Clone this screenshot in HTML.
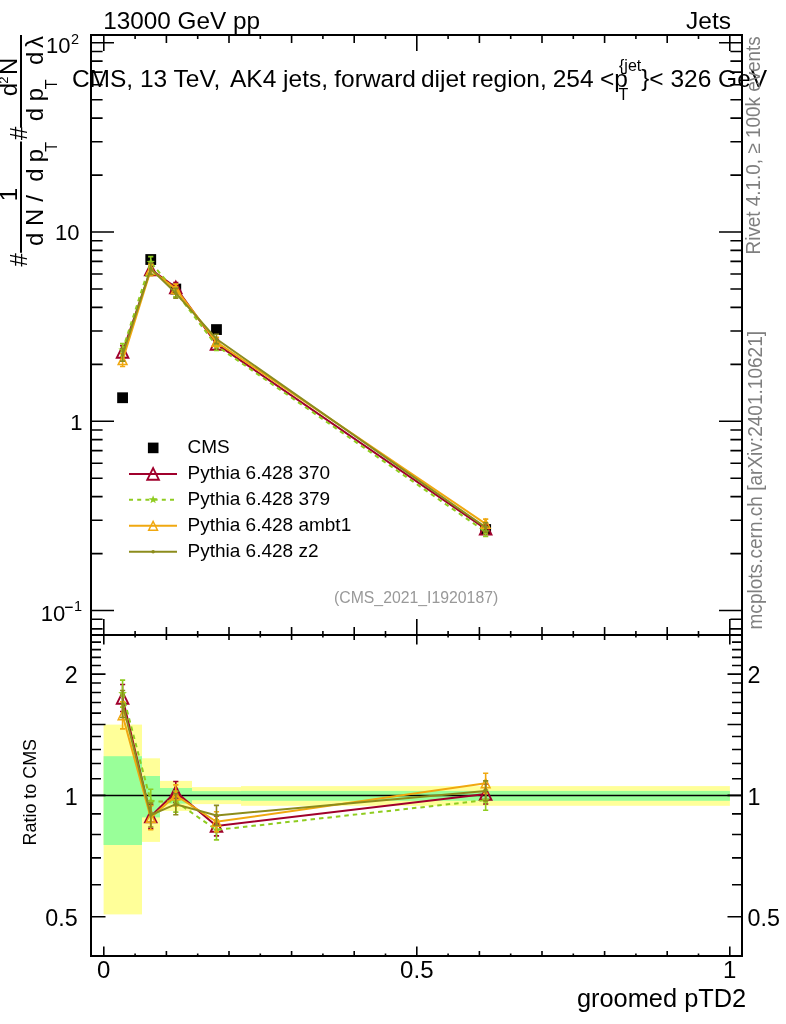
<!DOCTYPE html><html><head><meta charset="utf-8"><style>html,body{margin:0;padding:0;background:#fff;}svg{display:block;will-change:transform;}text{font-family:"Liberation Sans",sans-serif;}</style></head><body><svg width="786" height="1024" viewBox="0 0 786 1024"><rect x="103.6" y="724.6" width="38.4" height="189.8" fill="#ffff99"/>
<rect x="142" y="758.3" width="18" height="83.6" fill="#ffff99"/>
<rect x="160" y="780.9" width="32" height="30" fill="#ffff99"/>
<rect x="192" y="787.1" width="49" height="17" fill="#ffff99"/>
<rect x="241" y="786.1" width="488.9" height="19.7" fill="#ffff99"/>
<rect x="103.6" y="756.2" width="38.4" height="88.8" fill="#99ff99"/>
<rect x="142" y="776" width="18" height="41.4" fill="#99ff99"/>
<rect x="160" y="788" width="32" height="15.6" fill="#99ff99"/>
<rect x="192" y="791.1" width="49" height="9.1" fill="#99ff99"/>
<rect x="241" y="790.9" width="488.9" height="9.9" fill="#99ff99"/>
<path d="M91 628.89L102.6 628.89 M742 628.89L730.4 628.89 M91 619.21L102.6 619.21 M742 619.21L730.4 619.21 M91 610.55L114 610.55 M742 610.55L719 610.55 M91 553.58L102.6 553.58 M742 553.58L730.4 553.58 M91 520.25L102.6 520.25 M742 520.25L730.4 520.25 M91 496.61L102.6 496.61 M742 496.61L730.4 496.61 M91 478.27L102.6 478.27 M742 478.27L730.4 478.27 M91 463.28L102.6 463.28 M742 463.28L730.4 463.28 M91 450.62L102.6 450.62 M742 450.62L730.4 450.62 M91 439.64L102.6 439.64 M742 439.64L730.4 439.64 M91 429.96L102.6 429.96 M742 429.96L730.4 429.96 M91 421.3L114 421.3 M742 421.3L719 421.3 M91 364.33L102.6 364.33 M742 364.33L730.4 364.33 M91 331L102.6 331 M742 331L730.4 331 M91 307.36L102.6 307.36 M742 307.36L730.4 307.36 M91 289.02L102.6 289.02 M742 289.02L730.4 289.02 M91 274.03L102.6 274.03 M742 274.03L730.4 274.03 M91 261.37L102.6 261.37 M742 261.37L730.4 261.37 M91 250.39L102.6 250.39 M742 250.39L730.4 250.39 M91 240.71L102.6 240.71 M742 240.71L730.4 240.71 M91 232.05L114 232.05 M742 232.05L719 232.05 M91 175.08L102.6 175.08 M742 175.08L730.4 175.08 M91 141.75L102.6 141.75 M742 141.75L730.4 141.75 M91 118.11L102.6 118.11 M742 118.11L730.4 118.11 M91 99.77L102.6 99.77 M742 99.77L730.4 99.77 M91 84.78L102.6 84.78 M742 84.78L730.4 84.78 M91 72.12L102.6 72.12 M742 72.12L730.4 72.12 M91 61.14L102.6 61.14 M742 61.14L730.4 61.14 M91 51.46L102.6 51.46 M742 51.46L730.4 51.46 M91 42.8L114 42.8 M742 42.8L719 42.8 M91 916.72L105.5 916.72 M742 916.72L727.5 916.72 M91 884.81L101 884.81 M742 884.81L732 884.81 M91 857.83L101 857.83 M742 857.83L732 857.83 M91 834.45L101 834.45 M742 834.45L732 834.45 M91 813.84L101 813.84 M742 813.84L732 813.84 M91 795.4L105.5 795.4 M742 795.4L727.5 795.4 M91 778.72L101 778.72 M742 778.72L732 778.72 M91 763.49L101 763.49 M742 763.49L732 763.49 M91 749.48L101 749.48 M742 749.48L732 749.48 M91 736.51L101 736.51 M742 736.51L732 736.51 M91 724.44L105.5 724.44 M742 724.44L727.5 724.44 M91 713.14L101 713.14 M742 713.14L732 713.14 M91 702.53L101 702.53 M742 702.53L732 702.53 M91 692.53L101 692.53 M742 692.53L732 692.53 M91 683.06L101 683.06 M742 683.06L732 683.06 M91 674.08L105.5 674.08 M742 674.08L727.5 674.08 M91 665.55L101 665.55 M742 665.55L732 665.55 M91 657.4L101 657.4 M742 657.4L732 657.4 M91 649.62L101 649.62 M742 649.62L732 649.62 M91 642.17L101 642.17 M742 642.17L732 642.17 M103.8 35L103.8 51 M103.8 635L103.8 619 M103.8 635L103.8 644.5 M103.8 956L103.8 946.5 M135.1 35L135.1 39 M135.1 635L135.1 631 M135.1 635L135.1 637.5 M135.1 956L135.1 953.5 M166.4 35L166.4 43 M166.4 635L166.4 627 M166.4 635L166.4 640 M166.4 956L166.4 951 M197.7 35L197.7 39 M197.7 635L197.7 631 M197.7 635L197.7 637.5 M197.7 956L197.7 953.5 M229 35L229 43 M229 635L229 627 M229 635L229 640 M229 956L229 951 M260.3 35L260.3 39 M260.3 635L260.3 631 M260.3 635L260.3 637.5 M260.3 956L260.3 953.5 M291.6 35L291.6 43 M291.6 635L291.6 627 M291.6 635L291.6 640 M291.6 956L291.6 951 M322.9 35L322.9 39 M322.9 635L322.9 631 M322.9 635L322.9 637.5 M322.9 956L322.9 953.5 M354.2 35L354.2 43 M354.2 635L354.2 627 M354.2 635L354.2 640 M354.2 956L354.2 951 M385.5 35L385.5 39 M385.5 635L385.5 631 M385.5 635L385.5 637.5 M385.5 956L385.5 953.5 M416.8 35L416.8 51 M416.8 635L416.8 619 M416.8 635L416.8 644.5 M416.8 956L416.8 946.5 M448.1 35L448.1 39 M448.1 635L448.1 631 M448.1 635L448.1 637.5 M448.1 956L448.1 953.5 M479.4 35L479.4 43 M479.4 635L479.4 627 M479.4 635L479.4 640 M479.4 956L479.4 951 M510.7 35L510.7 39 M510.7 635L510.7 631 M510.7 635L510.7 637.5 M510.7 956L510.7 953.5 M542 35L542 43 M542 635L542 627 M542 635L542 640 M542 956L542 951 M573.3 35L573.3 39 M573.3 635L573.3 631 M573.3 635L573.3 637.5 M573.3 956L573.3 953.5 M604.6 35L604.6 43 M604.6 635L604.6 627 M604.6 635L604.6 640 M604.6 956L604.6 951 M635.9 35L635.9 39 M635.9 635L635.9 631 M635.9 635L635.9 637.5 M635.9 956L635.9 953.5 M667.2 35L667.2 43 M667.2 635L667.2 627 M667.2 635L667.2 640 M667.2 956L667.2 951 M698.5 35L698.5 39 M698.5 635L698.5 631 M698.5 635L698.5 637.5 M698.5 956L698.5 953.5 M729.8 35L729.8 51 M729.8 635L729.8 619 M729.8 635L729.8 644.5 M729.8 956L729.8 946.5" stroke="#000" stroke-width="1.6" fill="none"/>
<path d="M91 795.4H742" stroke="#000" stroke-width="1.5"/>
<defs><clipPath id="cm"><rect x="92" y="36" width="649" height="598"/></clipPath><clipPath id="cr"><rect x="92" y="636" width="649" height="319"/></clipPath></defs>
<rect x="117.18" y="392.34" width="10.8" height="10.8" fill="#000"/>
<rect x="145.35" y="254.11" width="10.8" height="10.8" fill="#000"/>
<rect x="170.39" y="283.62" width="10.8" height="10.8" fill="#000"/>
<rect x="211.08" y="324.17" width="10.8" height="10.8" fill="#000"/>
<rect x="480.26" y="524.13" width="10.8" height="10.8" fill="#000"/>
<path d="M122.58 351.98L150.75 269.46L175.79 287.39L216.48 343.9L485.66 528.87" fill="none" stroke="#a0002c" stroke-width="2" clip-path="url(#cm)"/>
<path d="M122.58 345.64V358.32M119.98 345.64H125.18M119.98 358.32H125.18M150.75 263.82V275.09M148.15 263.82H153.35M148.15 275.09H153.35M175.79 282.46V292.32M173.19 282.46H178.39M173.19 292.32H178.39M216.48 339.2V348.59M213.88 339.2H219.08M213.88 348.59H219.08M485.66 524.17V533.57M483.06 524.17H488.26M483.06 533.57H488.26" fill="none" stroke="#a0002c" stroke-width="1.6" clip-path="url(#cm)"/>
<path d="M116.78 357.78L128.38 357.78L122.58 346.18Z" fill="none" stroke="#a0002c" stroke-width="1.9" stroke-linejoin="miter"/>
<path d="M144.95 275.26L156.55 275.26L150.75 263.66Z" fill="none" stroke="#a0002c" stroke-width="1.9" stroke-linejoin="miter"/>
<path d="M169.99 293.19L181.59 293.19L175.79 281.59Z" fill="none" stroke="#a0002c" stroke-width="1.9" stroke-linejoin="miter"/>
<path d="M210.68 349.7L222.28 349.7L216.48 338.1Z" fill="none" stroke="#a0002c" stroke-width="1.9" stroke-linejoin="miter"/>
<path d="M479.86 534.67L491.46 534.67L485.66 523.07Z" fill="none" stroke="#a0002c" stroke-width="1.9" stroke-linejoin="miter"/>
<path d="M122.58 349.93L150.75 262.27L175.79 291.95L216.48 345.78L485.66 531.78" fill="none" stroke="#8fcc20" stroke-width="2" stroke-dasharray="4.5 4" clip-path="url(#cm)"/>
<path d="M122.58 343.59V356.27M119.98 343.59H125.18M119.98 356.27H125.18M150.75 256.63V267.9M148.15 256.63H153.35M148.15 267.9H153.35M175.79 287.02V296.88M173.19 287.02H178.39M173.19 296.88H178.39M216.48 341.08V350.47M213.88 341.08H219.08M213.88 350.47H219.08M485.66 527.08V536.47M483.06 527.08H488.26M483.06 536.47H488.26" fill="none" stroke="#8fcc20" stroke-width="1.6" clip-path="url(#cm)"/>
<path d="M122.58 345.43L123.69 348.4L126.86 348.54L124.38 350.52L125.23 353.57L122.58 351.82L119.93 353.57L120.78 350.52L118.3 348.54L121.47 348.4Z" fill="#8fcc20"/>
<path d="M150.75 257.77L151.86 260.74L155.03 260.88L152.55 262.85L153.4 265.91L150.75 264.16L148.1 265.91L148.95 262.85L146.47 260.88L149.64 260.74Z" fill="#8fcc20"/>
<path d="M175.79 287.45L176.9 290.42L180.07 290.56L177.59 292.53L178.44 295.59L175.79 293.84L173.14 295.59L173.99 292.53L171.51 290.56L174.68 290.42Z" fill="#8fcc20"/>
<path d="M216.48 341.28L217.59 344.25L220.76 344.39L218.28 346.36L219.13 349.42L216.48 347.67L213.83 349.42L214.68 346.36L212.2 344.39L215.37 344.25Z" fill="#8fcc20"/>
<path d="M485.66 527.28L486.77 530.25L489.94 530.38L487.46 532.36L488.31 535.42L485.66 533.67L483.01 535.42L483.86 532.36L481.38 530.38L484.55 530.25Z" fill="#8fcc20"/>
<path d="M122.58 360.14L150.75 270.01L175.79 289.02L216.48 341.96L485.66 523.81" fill="none" stroke="#f0a810" stroke-width="2" clip-path="url(#cm)"/>
<path d="M122.58 353.8V366.48M119.98 353.8H125.18M119.98 366.48H125.18M150.75 264.38V275.65M148.15 264.38H153.35M148.15 275.65H153.35M175.79 284.09V293.95M173.19 284.09H178.39M173.19 293.95H178.39M216.48 337.27V346.66M213.88 337.27H219.08M213.88 346.66H219.08M485.66 519.12V528.51M483.06 519.12H488.26M483.06 528.51H488.26" fill="none" stroke="#f0a810" stroke-width="1.6" clip-path="url(#cm)"/>
<path d="M118.18 364.54L126.98 364.54L122.58 355.74Z" fill="none" stroke="#f0a810" stroke-width="1.5" stroke-linejoin="miter"/>
<path d="M146.35 274.41L155.15 274.41L150.75 265.61Z" fill="none" stroke="#f0a810" stroke-width="1.5" stroke-linejoin="miter"/>
<path d="M171.39 293.42L180.19 293.42L175.79 284.62Z" fill="none" stroke="#f0a810" stroke-width="1.5" stroke-linejoin="miter"/>
<path d="M212.08 346.36L220.88 346.36L216.48 337.56Z" fill="none" stroke="#f0a810" stroke-width="1.5" stroke-linejoin="miter"/>
<path d="M481.26 528.21L490.06 528.21L485.66 519.41Z" fill="none" stroke="#f0a810" stroke-width="1.5" stroke-linejoin="miter"/>
<path d="M122.58 354.8L150.75 268.72L175.79 293.15L216.48 338.96L485.66 527.42" fill="none" stroke="#8c8c1c" stroke-width="2" clip-path="url(#cm)"/>
<path d="M122.58 348.47V361.14M119.98 348.47H125.18M119.98 361.14H125.18M150.75 263.08V274.35M148.15 263.08H153.35M148.15 274.35H153.35M175.79 288.22V298.08M173.19 288.22H178.39M173.19 298.08H178.39M216.48 334.26V343.65M213.88 334.26H219.08M213.88 343.65H219.08M485.66 522.72V532.11M483.06 522.72H488.26M483.06 532.11H488.26" fill="none" stroke="#8c8c1c" stroke-width="1.6" clip-path="url(#cm)"/>
<circle cx="122.58" cy="354.8" r="1.8" fill="#8c8c1c"/>
<circle cx="150.75" cy="268.72" r="1.8" fill="#8c8c1c"/>
<circle cx="175.79" cy="293.15" r="1.8" fill="#8c8c1c"/>
<circle cx="216.48" cy="338.96" r="1.8" fill="#8c8c1c"/>
<circle cx="485.66" cy="527.42" r="1.8" fill="#8c8c1c"/>
<path d="M122.58 697.96L150.75 816.58L175.79 791.93L216.48 825.92L485.66 794.01" fill="none" stroke="#a0002c" stroke-width="2" clip-path="url(#cr)"/>
<path d="M122.58 684.46V711.46M119.98 684.46H125.18M119.98 711.46H125.18M150.75 804.58V828.58M148.15 804.58H153.35M148.15 828.58H153.35M175.79 781.43V802.43M173.19 781.43H178.39M173.19 802.43H178.39M216.48 815.92V835.92M213.88 815.92H219.08M213.88 835.92H219.08M485.66 784.01V804.01M483.06 784.01H488.26M483.06 804.01H488.26" fill="none" stroke="#a0002c" stroke-width="1.6" clip-path="url(#cr)"/>
<path d="M116.78 703.76L128.38 703.76L122.58 692.16Z" fill="none" stroke="#a0002c" stroke-width="1.9" stroke-linejoin="miter"/>
<path d="M144.95 822.38L156.55 822.38L150.75 810.78Z" fill="none" stroke="#a0002c" stroke-width="1.9" stroke-linejoin="miter"/>
<path d="M169.99 797.73L181.59 797.73L175.79 786.13Z" fill="none" stroke="#a0002c" stroke-width="1.9" stroke-linejoin="miter"/>
<path d="M210.68 831.72L222.28 831.72L216.48 820.12Z" fill="none" stroke="#a0002c" stroke-width="1.9" stroke-linejoin="miter"/>
<path d="M479.86 799.81L491.46 799.81L485.66 788.21Z" fill="none" stroke="#a0002c" stroke-width="1.9" stroke-linejoin="miter"/>
<path d="M122.58 693.6L150.75 801.27L175.79 801.64L216.48 829.92L485.66 800.19" fill="none" stroke="#8fcc20" stroke-width="2" stroke-dasharray="4.5 4" clip-path="url(#cr)"/>
<path d="M122.58 680.1V707.1M119.98 680.1H125.18M119.98 707.1H125.18M150.75 789.27V813.27M148.15 789.27H153.35M148.15 813.27H153.35M175.79 791.14V812.14M173.19 791.14H178.39M173.19 812.14H178.39M216.48 819.92V839.92M213.88 819.92H219.08M213.88 839.92H219.08M485.66 790.19V810.19M483.06 790.19H488.26M483.06 810.19H488.26" fill="none" stroke="#8fcc20" stroke-width="1.6" clip-path="url(#cr)"/>
<path d="M122.58 689.1L123.69 692.07L126.86 692.21L124.38 694.18L125.23 697.24L122.58 695.49L119.93 697.24L120.78 694.18L118.3 692.21L121.47 692.07Z" fill="#8fcc20"/>
<path d="M150.75 796.77L151.86 799.74L155.03 799.88L152.55 801.86L153.4 804.91L150.75 803.16L148.1 804.91L148.95 801.86L146.47 799.88L149.64 799.74Z" fill="#8fcc20"/>
<path d="M175.79 797.14L176.9 800.11L180.07 800.24L177.59 802.22L178.44 805.28L175.79 803.53L173.14 805.28L173.99 802.22L171.51 800.24L174.68 800.11Z" fill="#8fcc20"/>
<path d="M216.48 825.42L217.59 828.39L220.76 828.53L218.28 830.5L219.13 833.56L216.48 831.81L213.83 833.56L214.68 830.5L212.2 828.53L215.37 828.39Z" fill="#8fcc20"/>
<path d="M485.66 795.69L486.77 798.66L489.94 798.8L487.46 800.77L488.31 803.83L485.66 802.08L483.01 803.83L483.86 800.77L481.38 798.8L484.55 798.66Z" fill="#8fcc20"/>
<path d="M122.58 715.34L150.75 817.77L175.79 795.4L216.48 821.8L485.66 783.23" fill="none" stroke="#f0a810" stroke-width="2" clip-path="url(#cr)"/>
<path d="M122.58 701.84V728.84M119.98 701.84H125.18M119.98 728.84H125.18M150.75 805.77V829.77M148.15 805.77H153.35M148.15 829.77H153.35M175.79 784.9V805.9M173.19 784.9H178.39M173.19 805.9H178.39M216.48 811.8V831.8M213.88 811.8H219.08M213.88 831.8H219.08M485.66 773.23V793.23M483.06 773.23H488.26M483.06 793.23H488.26" fill="none" stroke="#f0a810" stroke-width="1.6" clip-path="url(#cr)"/>
<path d="M118.18 719.74L126.98 719.74L122.58 710.94Z" fill="none" stroke="#f0a810" stroke-width="1.5" stroke-linejoin="miter"/>
<path d="M146.35 822.17L155.15 822.17L150.75 813.37Z" fill="none" stroke="#f0a810" stroke-width="1.5" stroke-linejoin="miter"/>
<path d="M171.39 799.8L180.19 799.8L175.79 791Z" fill="none" stroke="#f0a810" stroke-width="1.5" stroke-linejoin="miter"/>
<path d="M212.08 826.2L220.88 826.2L216.48 817.4Z" fill="none" stroke="#f0a810" stroke-width="1.5" stroke-linejoin="miter"/>
<path d="M481.26 787.63L490.06 787.63L485.66 778.83Z" fill="none" stroke="#f0a810" stroke-width="1.5" stroke-linejoin="miter"/>
<path d="M122.58 703.98L150.75 815.01L175.79 804.19L216.48 815.4L485.66 790.91" fill="none" stroke="#8c8c1c" stroke-width="2" clip-path="url(#cr)"/>
<path d="M122.58 690.48V717.48M119.98 690.48H125.18M119.98 717.48H125.18M150.75 803.01V827.01M148.15 803.01H153.35M148.15 827.01H153.35M175.79 793.69V814.69M173.19 793.69H178.39M173.19 814.69H178.39M216.48 805.4V825.4M213.88 805.4H219.08M213.88 825.4H219.08M485.66 780.91V800.91M483.06 780.91H488.26M483.06 800.91H488.26" fill="none" stroke="#8c8c1c" stroke-width="1.6" clip-path="url(#cr)"/>
<circle cx="122.58" cy="703.98" r="1.8" fill="#8c8c1c"/>
<circle cx="150.75" cy="815.01" r="1.8" fill="#8c8c1c"/>
<circle cx="175.79" cy="804.19" r="1.8" fill="#8c8c1c"/>
<circle cx="216.48" cy="815.4" r="1.8" fill="#8c8c1c"/>
<circle cx="485.66" cy="790.91" r="1.8" fill="#8c8c1c"/>
<path d="M91 35H742V956H91Z M91 635H742" fill="none" stroke="#000" stroke-width="2"/>
<rect x="147.9" y="442.6" width="10.6" height="10.6" fill="#000"/>
<path d="M129 473.9H177" stroke="#a0002c" stroke-width="2"/>
<path d="M147.3 479.7L158.9 479.7L153.1 468.1Z" fill="none" stroke="#a0002c" stroke-width="1.9" stroke-linejoin="miter"/>
<path d="M129 499.7H177" stroke="#8fcc20" stroke-width="2" stroke-dasharray="4 4.2"/>
<path d="M153.1 495.2L154.21 498.17L157.38 498.31L154.9 500.28L155.75 503.34L153.1 501.59L150.45 503.34L151.3 500.28L148.82 498.31L151.99 498.17Z" fill="#8fcc20"/>
<path d="M129 525.8H177" stroke="#f0a810" stroke-width="2"/>
<path d="M148.7 530.2L157.5 530.2L153.1 521.4Z" fill="none" stroke="#f0a810" stroke-width="1.5" stroke-linejoin="miter"/>
<path d="M129 551.8H177" stroke="#8c8c1c" stroke-width="2"/>
<circle cx="153.1" cy="551.8" r="1.8" fill="#8c8c1c"/>
<text x="187.5" y="453.4" font-size="19" font-family="Liberation Sans, sans-serif">CMS</text>
<text x="187.5" y="479.4" font-size="19" font-family="Liberation Sans, sans-serif">Pythia 6.428 370</text>
<text x="187.5" y="505.2" font-size="19" font-family="Liberation Sans, sans-serif">Pythia 6.428 379</text>
<text x="187.5" y="531.3" font-size="19" font-family="Liberation Sans, sans-serif">Pythia 6.428 ambt1</text>
<text x="187.5" y="557.3" font-size="19" font-family="Liberation Sans, sans-serif">Pythia 6.428 z2</text>
<text x="103.3" y="28.8" font-size="24.3" font-family="Liberation Sans, sans-serif">13000 GeV pp</text>
<text x="686.1" y="29.3" font-size="24.5" font-family="Liberation Sans, sans-serif">Jets</text>
<text x="71.9" y="87.3" font-size="24.5" font-family="Liberation Sans, sans-serif">CMS, 13 TeV,</text>
<text x="230" y="87.3" font-size="24.5" font-family="Liberation Sans, sans-serif">AK4 jets,</text>
<text x="334.3" y="87.3" font-size="24.5" font-family="Liberation Sans, sans-serif">forward</text>
<text x="420.9" y="87.3" font-size="24.5" font-family="Liberation Sans, sans-serif">dijet</text>
<text x="471.8" y="87.3" font-size="24.5" font-family="Liberation Sans, sans-serif">region,</text>
<text x="552.7" y="87.3" font-size="24.5" font-family="Liberation Sans, sans-serif">254</text>
<text x="600" y="87.3" font-size="24.5" font-family="Liberation Sans, sans-serif">&lt;p</text>
<text x="619" y="71" font-size="16" font-family="Liberation Sans, sans-serif">{jet</text>
<text x="618.5" y="99.5" font-size="16" font-family="Liberation Sans, sans-serif">T</text>
<text x="641.3" y="86.2" font-size="24" font-family="Liberation Sans, sans-serif">}</text>
<text x="649.3" y="87.3" font-size="24.5" font-family="Liberation Sans, sans-serif">&lt; 326 GeV</text>
<text x="46" y="52.9" font-size="22" font-family="Liberation Sans, sans-serif">10</text>
<text x="71" y="43.7" font-size="14.5" font-family="Liberation Sans, sans-serif">2</text>
<text x="79.6" y="240.3" font-size="22" text-anchor="end" font-family="Liberation Sans, sans-serif">10</text>
<text x="82.6" y="430" font-size="22" text-anchor="end" font-family="Liberation Sans, sans-serif">1</text>
<text x="40.7" y="621" font-size="22" font-family="Liberation Sans, sans-serif">10</text>
<rect x="65.1" y="606.6" width="7.6" height="1.4" fill="#000"/>
<text x="74" y="610.9" font-size="14.5" font-family="Liberation Sans, sans-serif">1</text>
<text x="77.6" y="683.18" font-size="23.3" text-anchor="end" font-family="Liberation Sans, sans-serif">2</text>
<text x="747.6" y="683.18" font-size="23.3" font-family="Liberation Sans, sans-serif">2</text>
<text x="77.6" y="804.5" font-size="23.3" text-anchor="end" font-family="Liberation Sans, sans-serif">1</text>
<text x="747.6" y="804.5" font-size="23.3" font-family="Liberation Sans, sans-serif">1</text>
<text x="77.6" y="925.82" font-size="23.3" text-anchor="end" font-family="Liberation Sans, sans-serif">0.5</text>
<text x="747.6" y="925.82" font-size="23.3" font-family="Liberation Sans, sans-serif">0.5</text>
<text x="103.8" y="978.2" font-size="24" text-anchor="middle" font-family="Liberation Sans, sans-serif">0</text>
<text x="416.8" y="978.2" font-size="24" text-anchor="middle" font-family="Liberation Sans, sans-serif">0.5</text>
<text x="729.8" y="978.2" font-size="24" text-anchor="middle" font-family="Liberation Sans, sans-serif">1</text>
<text x="576.9" y="1006.7" font-size="25.4" font-family="Liberation Sans, sans-serif">groomed pTD2</text>
<text x="334" y="603.1" font-size="15.8" fill="#999" font-family="Liberation Sans, sans-serif">(CMS_2021_I1920187)</text>
<text transform="translate(760.2 254.4) rotate(-90)" font-size="20" fill="#7f7f7f" textLength="218.2" lengthAdjust="spacingAndGlyphs" font-family="Liberation Sans, sans-serif">Rivet 4.1.0, &#8805; 100k events</text>
<text transform="translate(762 629.5) rotate(-90)" font-size="20" fill="#7f7f7f" textLength="298.6" lengthAdjust="spacingAndGlyphs" font-family="Liberation Sans, sans-serif">mcplots.cern.ch [arXiv:2401.10621]</text>
<text transform="translate(36.2 845.4) rotate(-90)" font-size="17.9" font-family="Liberation Sans, sans-serif">Ratio to CMS</text>
<g transform="translate(21 266.5) rotate(-90)"><text x="-0.01" y="6" font-size="24" font-family="Liberation Sans, sans-serif">#</text><path d="M13.8 0H125 M138.8 0H231.5" stroke="#000" stroke-width="2"/><text x="20.49" y="21.8" font-size="24" font-family="Liberation Sans, sans-serif">d</text><text x="40.53" y="21.8" font-size="24" font-family="Liberation Sans, sans-serif">N</text><text x="64.7" y="21.8" font-size="24" font-family="Liberation Sans, sans-serif">/</text><text x="65.18" y="-3.9" font-size="24" font-family="Liberation Sans, sans-serif">1</text><text x="84.69" y="21.8" font-size="24" font-family="Liberation Sans, sans-serif">d</text><text x="104.35" y="21.8" font-size="24" font-family="Liberation Sans, sans-serif">p</text><text x="114.74" y="35.5" font-size="16" font-family="Liberation Sans, sans-serif">T</text><text x="126.49" y="6" font-size="24" font-family="Liberation Sans, sans-serif">#</text><text x="145.39" y="21.8" font-size="24" font-family="Liberation Sans, sans-serif">d</text><text x="165.15" y="21.8" font-size="24" font-family="Liberation Sans, sans-serif">p</text><text x="177.34" y="36.3" font-size="16" font-family="Liberation Sans, sans-serif">T</text><text x="201.49" y="21.8" font-size="24" font-family="Liberation Sans, sans-serif">d</text><text x="218.44" y="21.8" font-size="24" font-family="Liberation Sans, sans-serif">&#955;</text><text x="170.19" y="-3.9" font-size="24" font-family="Liberation Sans, sans-serif">d</text><text x="182.85" y="-13.5" font-size="13" font-family="Liberation Sans, sans-serif">2</text><text x="191.43" y="-3.9" font-size="24" font-family="Liberation Sans, sans-serif">N</text></g></svg></body></html>
